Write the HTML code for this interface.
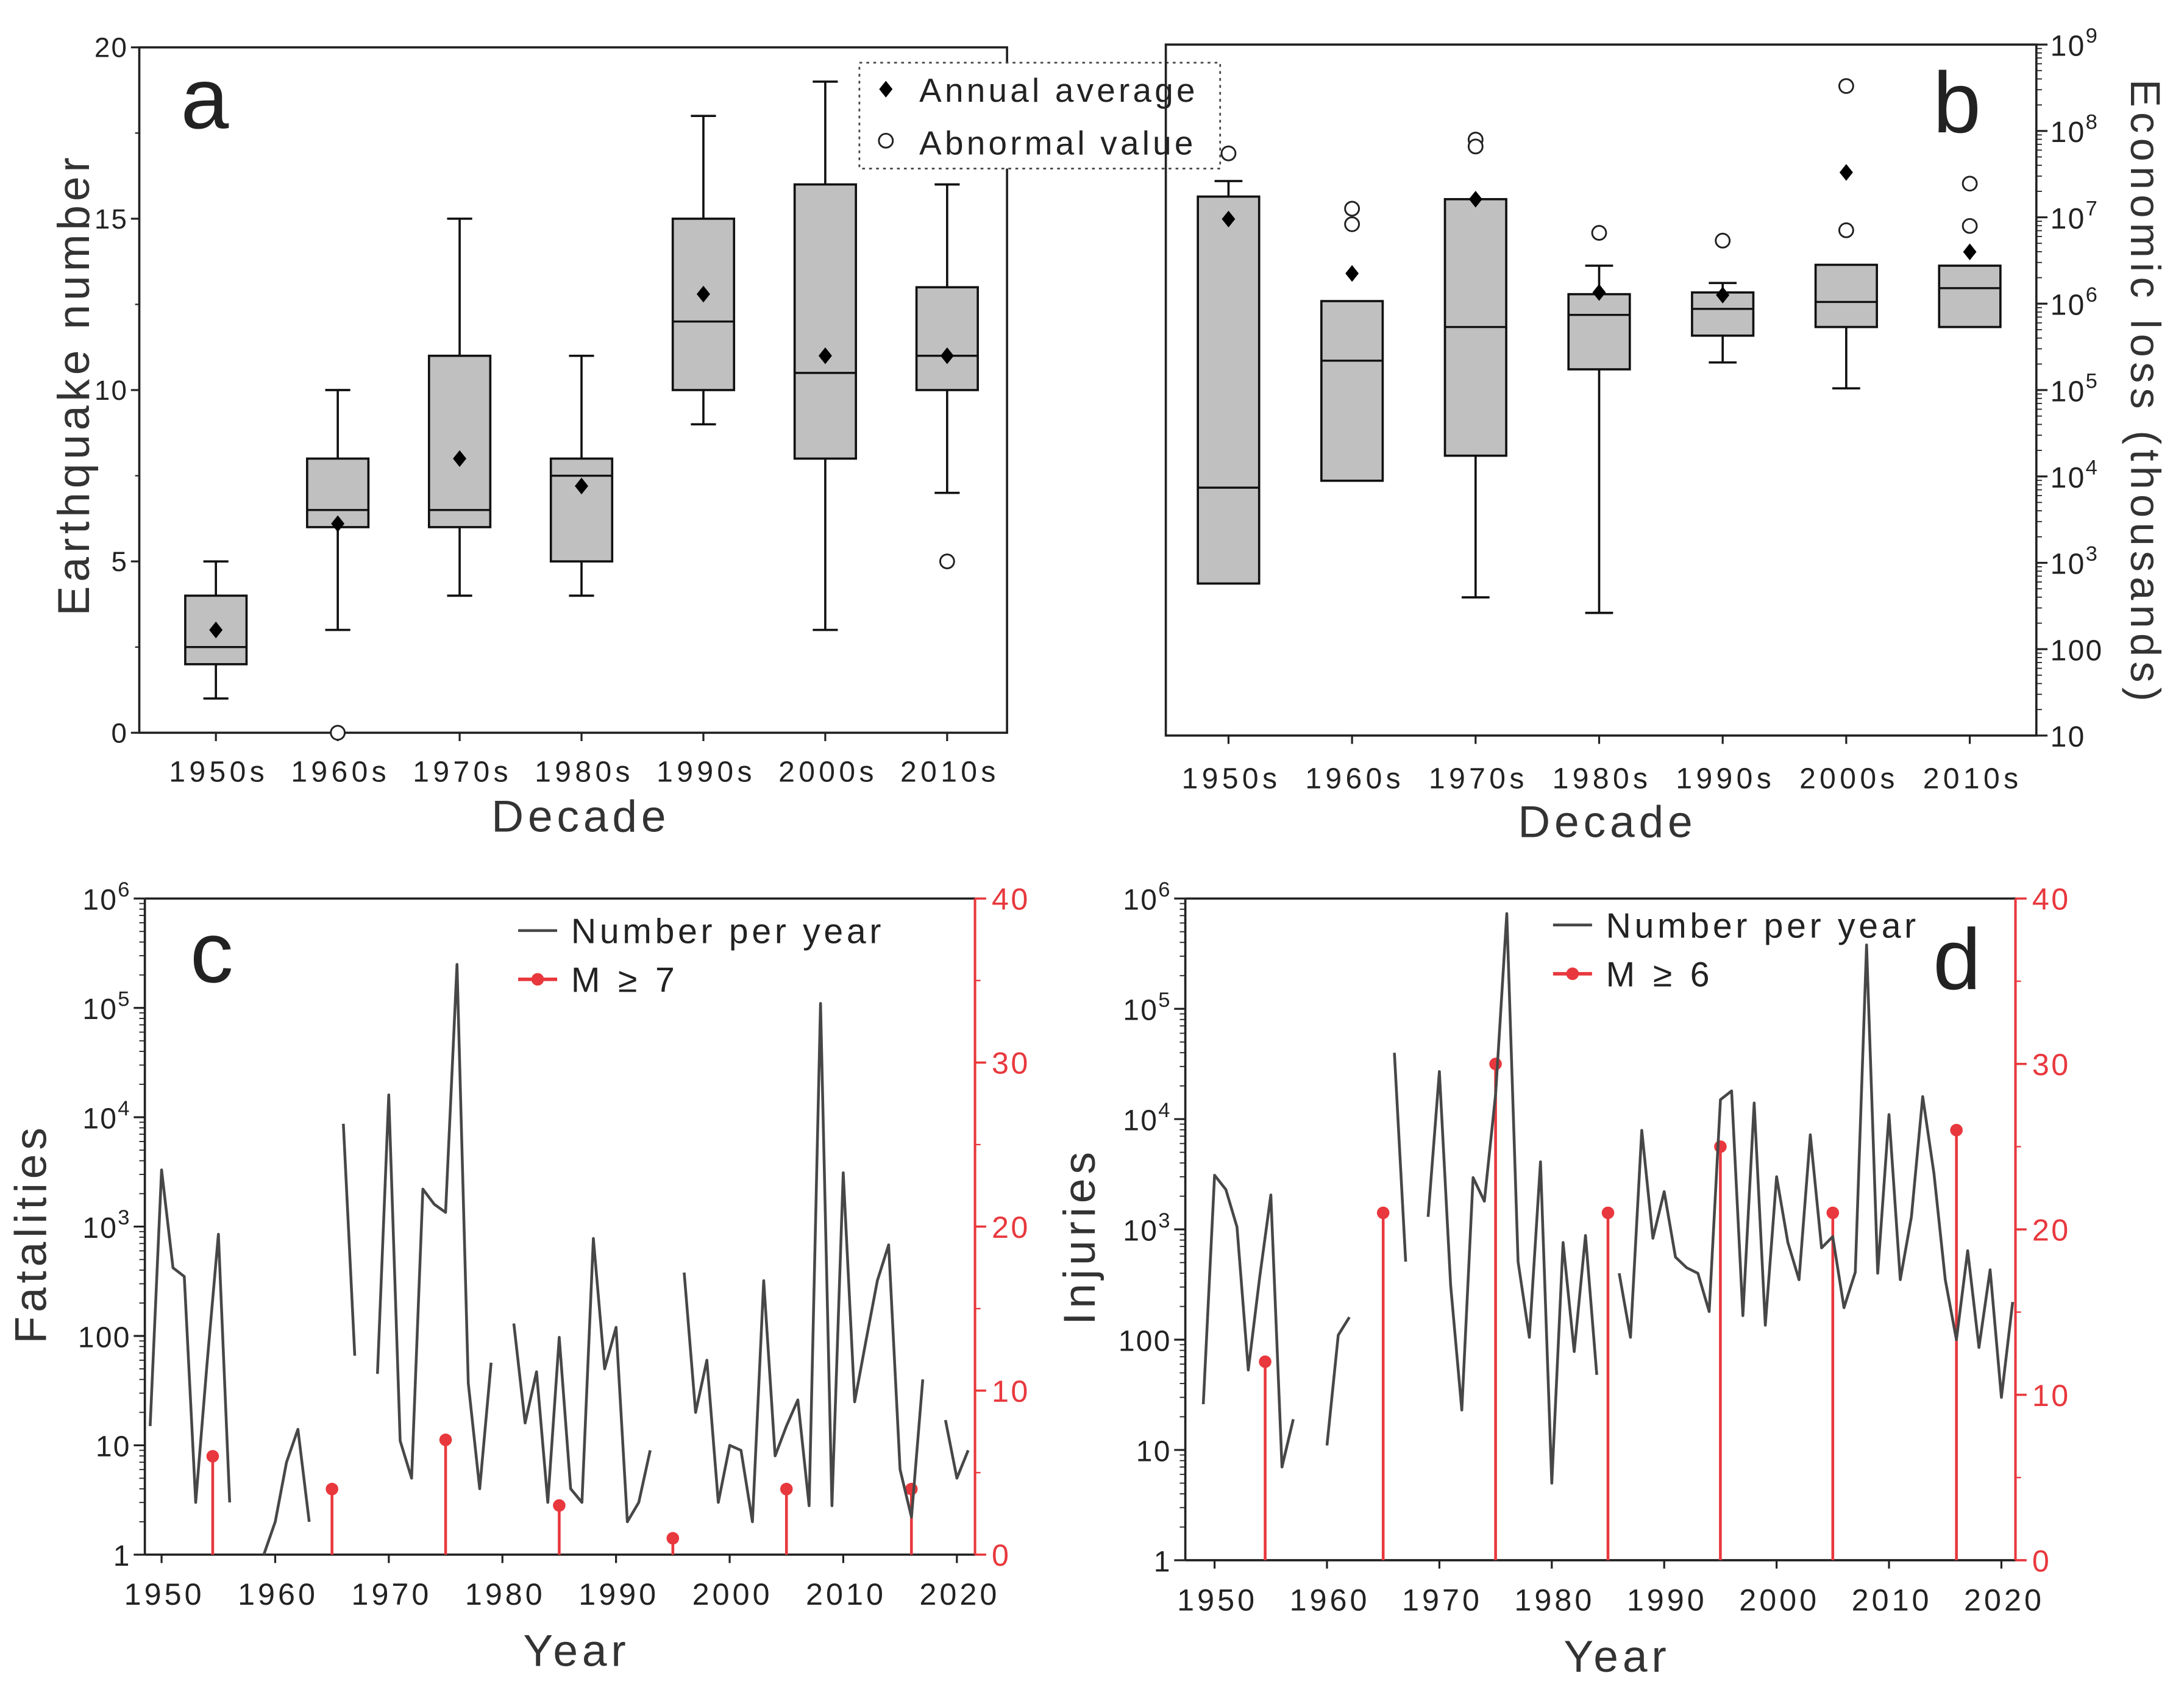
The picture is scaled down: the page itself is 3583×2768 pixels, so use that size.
<!DOCTYPE html>
<html><head><meta charset="utf-8">
<style>
html,body{margin:0;padding:0;background:#fff;}
svg{display:block;font-family:"Liberation Sans",Arial,sans-serif;}
</style></head>
<body>
<svg id="fig" width="3583" height="2768" viewBox="0 0 1568 1211" preserveAspectRatio="none" xmlns="http://www.w3.org/2000/svg"></svg>
<script>
// ---------- Panel a data ----------
const decades = ["1950s","1960s","1970s","1980s","1990s","2000s","2010s"];
const aWhiskLo = [1,3,4,4,9,3,7];
const aQ1 = [2,6,6,5,10,8,10];
const aMed = [2.5,6.5,6.5,7.5,12,10.5,11];
const aQ3 = [4,8,11,8,15,16,13];
const aWhiskHi = [5,10,15,11,18,19,16];
const aMean = [3,6.1,8,7.2,12.8,11,11];
const aOutliers = [[],[0],[],[],[],[],[5]];
const aTicks = [0,5,10,15,20];
// ---------- Panel b data (log10 of thousands) ----------
const bWhiskLo = [2.76,3.95,2.6,2.42,5.32,5.02,5.73];
const bQ1 = [2.76,3.95,4.24,5.24,5.63,5.73,5.73];
const bMed = [3.87,5.34,5.73,5.87,5.94,6.02,6.18];
const bQ3 = [7.24,6.03,7.21,6.11,6.13,6.45,6.44];
const bWhiskHi = [7.42,6.03,7.21,6.44,6.24,6.45,6.44];
const bMean = [6.98,6.35,7.21,6.13,6.1,7.52,6.6];
const bOutliers = [[7.74],[7.1,6.92],[7.9,7.82],[6.82],[6.73],[8.52,6.85],[7.39,6.9]];
const bTicks = [1,2,3,4,5,6,7,8,9];
// ---------- Panel c data ----------
const years = [];
for (let y=1949;y<=2021;y++) years.push(y);
const fatalities = [15,3300,420,350,3,55,850,3,null,null,1,2,7,14,2,null,null,8700,66,null,45,16000,11,5,2200,1600,1350,250000,37,4,57,null,130,16,47,3,97,4,3,780,50,120,2,3,9,null,null,380,20,60,3,10,9,2,320,8,15,26,2.8,110000,2.8,3100,25,90,320,680,6,2.2,40,null,17,5,9];
const cStemYears = [1954.5,1965,1975,1985,1995,2005,2016];
const cStemVals = [6,4,7,3,1,4,4];
// ---------- Panel d data ----------
const injuries = [26,3100,2300,1050,53,360,2050,7,19,null,null,11,110,160,null,null,null,40000,510,null,1300,27000,310,23,2950,1800,17000,730000,510,105,4100,5,760,78,880,48,null,400,105,7900,830,2200,560,450,400,180,15000,18000,165,14000,135,3000,760,350,7200,680,860,195,410,380000,400,11000,350,1300,16000,3200,350,100,640,85,430,30,220];
const dStemYears = [1954.5,1965,1975,1985,1995,2005,2016];
const dStemVals = [12,21,30,21,25,21,26];
const logTicks = [0,1,2,3,4,5,6];

const NS="http://www.w3.org/2000/svg";
const svg=document.getElementById('fig');
function el(tag,attrs,parent,text){const e=document.createElementNS(NS,tag);for(const k in attrs)e.setAttribute(k,attrs[k]);if(text!==undefined)e.textContent=text;(parent||svg).appendChild(e);return e;}
const BOXF="#c0c0c0", RED="#e8383d";

function grp(name){const g=el('g',{});return g;}
function txt(g,x,y,s,size,anchor,fill,name,extra,ls){
  const sp=(ls!==undefined?ls:0.12*size);
  const a=Object.assign({x:x,y:y,'font-size':size,'text-anchor':anchor||'middle',fill:fill||'#222','letter-spacing':sp},extra||{});
  const t=el('text',a,g,s);return t;}
function diamond(g,x,y,r){const p=el('polygon',{points:`${x},${y-r} ${x+r*0.8},${y} ${x},${y+r} ${x-r*0.8},${y}`,fill:'#000'},g);}
function circ(g,x,y){const c=el('circle',{cx:x,cy:y,r:5,fill:'#fff',stroke:'#222','stroke-width':1.3},g);}
function logLabel(g,x,y,p,anchor,fill,size){
  const names={0:'1',1:'10',2:'100'};
  if(names[p]!==undefined){txt(g,x,y,names[p],size,anchor,fill,'tick-label',{},1);return;}
  const t=el('text',{x:x,y:y,'font-size':size,'text-anchor':anchor,fill:fill,'letter-spacing':1},g);
  
  el('tspan',{},t,'10');el('tspan',{dy:-size*0.45,'font-size':size*0.72},t,String(p));
}

// ================= Panel a =================
(function(){
  const g=grp('panel-a');
  const L=100,R=723,T=34,B=526;
  const xs=i=>155+i*87.5, ys=v=>B-(v/20)*(B-T);
  el('rect',{x:L,y:T,width:R-L,height:B-T,fill:'none',stroke:'#222','stroke-width':1.6},g);
  aTicks.forEach(v=>{el('line',{x1:L-6,x2:L,y1:ys(v),y2:ys(v),stroke:'#222','stroke-width':1.4},g);txt(g,L-8,ys(v)+7,String(v),20,'end','#222','y-tick-label',{},1);});
  for(let v=2.5;v<20;v+=5)el('line',{x1:L-3,x2:L,y1:ys(v),y2:ys(v),stroke:'#222'},g);
  decades.forEach((d,i)=>{
    const x=xs(i);
    el('line',{x1:x,x2:x,y1:B,y2:B+6,stroke:'#222','stroke-width':1.4},g);
    txt(g,x+2,B+35,d,21,'middle','#222','x-tick-label',{},2.8);
    const bx=grp('box-a-'+d);g.appendChild(bx);
    el('line',{x1:x,x2:x,y1:ys(aWhiskLo[i]),y2:ys(aQ1[i]),stroke:'#111','stroke-width':1.6},bx);
    el('line',{x1:x,x2:x,y1:ys(aQ3[i]),y2:ys(aWhiskHi[i]),stroke:'#111','stroke-width':1.6},bx);
    el('line',{x1:x-9,x2:x+9,y1:ys(aWhiskLo[i]),y2:ys(aWhiskLo[i]),stroke:'#111','stroke-width':1.6},bx);
    el('line',{x1:x-9,x2:x+9,y1:ys(aWhiskHi[i]),y2:ys(aWhiskHi[i]),stroke:'#111','stroke-width':1.6},bx);
    el('rect',{x:x-22,y:ys(aQ3[i]),width:44,height:ys(aQ1[i])-ys(aQ3[i]),fill:BOXF,stroke:'#111','stroke-width':1.6},bx);
    el('line',{x1:x-22,x2:x+22,y1:ys(aMed[i]),y2:ys(aMed[i]),stroke:'#111','stroke-width':1.5},bx);
    diamond(bx,x,ys(aMean[i]),6);
    aOutliers[i].forEach(o=>circ(bx,x,ys(o)));
  });
  txt(g,417,597,'Decade',32,'middle','#333','x-axis-title-a',{},3);
  txt(g,0,0,'Earthquake number',32,'middle','#333','y-axis-title-a',{transform:'translate(64,276) rotate(-90)'},3);
  txt(g,147,92,'a',62,'middle','#222','panel-letter-a',{},0);
  const lg=grp('legend-a');g.appendChild(lg);
  el('rect',{x:617,y:45,width:259,height:76,fill:'#fff',stroke:'#444','stroke-dasharray':'2,3','stroke-width':1.2},lg);
  diamond(lg,636,64,6);txt(lg,660,73,'Annual average',24,'start','#222','legend-label',{},2.3);
  circ(lg,636,101);txt(lg,660,111,'Abnormal value',24,'start','#222','legend-label',{},2.3);
})();

// ================= Panel b =================
(function(){
  const g=grp('panel-b');
  const L=837,R=1462,T=32,B=528;
  const xs=i=>882+i*88.7, ys=v=>B-((v-1)/8)*(B-T);
  el('rect',{x:L,y:T,width:R-L,height:B-T,fill:'none',stroke:'#222','stroke-width':1.6},g);
  bTicks.forEach(p=>{
    el('line',{x1:R,x2:R+8,y1:ys(p),y2:ys(p),stroke:'#222','stroke-width':1.4},g);
    logLabel(g,R+10,ys(p)+8,p,'start','#222',21);
    if(p<9)for(let m=2;m<10;m++){const yy=ys(p+Math.log10(m));el('line',{x1:R,x2:R+4,y1:yy,y2:yy,stroke:'#222','stroke-width':0.8},g);}
  });
  decades.forEach((d,i)=>{
    const x=xs(i);
    el('line',{x1:x,x2:x,y1:B,y2:B+6,stroke:'#222','stroke-width':1.4},g);
    txt(g,x+2,B+38,d,21,'middle','#222','x-tick-label',{},2.8);
    const bx=grp('box-b-'+d);g.appendChild(bx);
    if(bWhiskLo[i]<bQ1[i]){el('line',{x1:x,x2:x,y1:ys(bWhiskLo[i]),y2:ys(bQ1[i]),stroke:'#111','stroke-width':1.6},bx);el('line',{x1:x-10,x2:x+10,y1:ys(bWhiskLo[i]),y2:ys(bWhiskLo[i]),stroke:'#111','stroke-width':1.6},bx);}
    if(bWhiskHi[i]>bQ3[i]){el('line',{x1:x,x2:x,y1:ys(bQ3[i]),y2:ys(bWhiskHi[i]),stroke:'#111','stroke-width':1.6},bx);el('line',{x1:x-10,x2:x+10,y1:ys(bWhiskHi[i]),y2:ys(bWhiskHi[i]),stroke:'#111','stroke-width':1.6},bx);}
    el('rect',{x:x-22,y:ys(bQ3[i]),width:44,height:ys(bQ1[i])-ys(bQ3[i]),fill:BOXF,stroke:'#111','stroke-width':1.6},bx);
    el('line',{x1:x-22,x2:x+22,y1:ys(bMed[i]),y2:ys(bMed[i]),stroke:'#111','stroke-width':1.5},bx);
    diamond(bx,x,ys(bMean[i]),6);
    bOutliers[i].forEach(o=>circ(bx,x,ys(o)));
  });
  txt(g,1154,601,'Decade',32,'middle','#333','x-axis-title-b',{},3);
  txt(g,0,0,'Economic loss (thousands)',30,'middle','#333','y-axis-title-b',{transform:'translate(1530,282) rotate(90)'},3.6);
  txt(g,1405,95,'b',62,'middle','#222','panel-letter-b',{},0);
})();

// ================= Line panels =================
function linePanel(o){
  const g=grp(o.name);
  const {L,R,T,B,x1950,pxYr}=o;
  const xs=y=>x1950+(y-1950)*pxYr, ys=v=>B-(Math.log10(v)/6)*(B-T), yr=v=>B-(v/40)*(B-T);
  el('line',{x1:L,x2:R,y1:T,y2:T,stroke:'#222','stroke-width':1.6},g);
  el('line',{x1:L,x2:R,y1:B,y2:B,stroke:'#222','stroke-width':1.6},g);
  el('line',{x1:L,x2:L,y1:T,y2:B,stroke:'#222','stroke-width':1.6},g);
  el('line',{x1:R,x2:R,y1:T,y2:B,stroke:RED,'stroke-width':1.8},g);
  logTicks.forEach(p=>{
    el('line',{x1:L-8,x2:L,y1:ys(10**p),y2:ys(10**p),stroke:'#222','stroke-width':1.4},g);
    logLabel(g,L-10,ys(10**p)+8,p,'end','#222',21);
    if(p<6)for(let m=2;m<10;m++){const yy=ys(m*10**p);el('line',{x1:L-4,x2:L,y1:yy,y2:yy,stroke:'#222','stroke-width':0.8},g);}
  });
  [0,10,20,30,40].forEach(v=>{
    el('line',{x1:R,x2:R+8,y1:yr(v),y2:yr(v),stroke:RED,'stroke-width':1.6},g);
    txt(g,R+12,yr(v)+8,String(v),22,'start',RED,'right-tick-label',{},1.5);
    if(v<40)el('line',{x1:R,x2:R+4,y1:yr(v+5),y2:yr(v+5),stroke:RED},g);
  });
  for(let y=1950;y<=2020;y+=10){
    el('line',{x1:xs(y),x2:xs(y),y1:B,y2:B+6,stroke:'#222','stroke-width':1.4},g);
    txt(g,xs(y)+2,B+36,String(y),22,'middle','#222','x-tick-label',{},2.2);
  }
  o.stemYears.forEach((y,i)=>{
    const s=grp('stem-'+y);g.appendChild(s);
    el('line',{x1:xs(y),x2:xs(y),y1:B,y2:yr(o.stemVals[i]),stroke:RED,'stroke-width':2},s);
    el('circle',{cx:xs(y),cy:yr(o.stemVals[i]),r:4.5,fill:RED},s);
  });
  let d='',pen=false;
  years.forEach((y,i)=>{const v=o.vals[i];if(v==null){pen=false;return;}d+=(pen?'L':'M')+xs(y).toFixed(1)+','+ys(v).toFixed(1);pen=true;});
  const pth=el('path',{d:d,fill:'none',stroke:'#474747','stroke-width':2,'stroke-linejoin':'round'},g);
  
  const lg=grp('legend-'+o.letter);g.appendChild(lg);
  el('line',{x1:o.lgx,x2:o.lgx+28,y1:o.lgy,y2:o.lgy,stroke:'#474747','stroke-width':2},lg);
  txt(lg,o.lgx+38,o.lgy+9,'Number per year',25,'start','#222','legend-label',{},2.5);
  el('line',{x1:o.lgx,x2:o.lgx+28,y1:o.lgy+35,y2:o.lgy+35,stroke:RED,'stroke-width':2.5},lg);
  el('circle',{cx:o.lgx+14,cy:o.lgy+35,r:4.5,fill:RED},lg);
  txt(lg,o.lgx+38,o.lgy+44,o.mlabel,25,'start','#222','legend-label',{'xml:space':'preserve'},3);
  txt(g,o.letx,o.lety,o.letter,62,'middle','#222','panel-letter-'+o.letter,{},0);
  txt(g,(L+R)/2+12,B+80,'Year',32,'middle','#333','x-axis-title-'+o.letter,{},3);
  txt(g,0,0,o.ytitle,32,'middle','#333','y-axis-title-'+o.letter,{transform:`translate(${o.ytx},${(T+B)/2+5}) rotate(-90)`},3);
}
linePanel({name:'panel-c',letter:'c',L:104,R:700,T:645,B:1116,x1950:116,pxYr:8.157,vals:fatalities,stemYears:cStemYears,stemVals:cStemVals,lgx:372,lgy:668,mlabel:'M ≥  7',letx:152,lety:705,ytitle:'Fatalities',ytx:33});
linePanel({name:'panel-d',letter:'d',L:851,R:1447,T:645,B:1120,x1950:872,pxYr:8.07,vals:injuries,stemYears:dStemYears,stemVals:dStemVals,lgx:1115,lgy:664,mlabel:'M ≥  6',letx:1405,lety:710,ytitle:'Injuries',ytx:786});
</script>
</body></html>
